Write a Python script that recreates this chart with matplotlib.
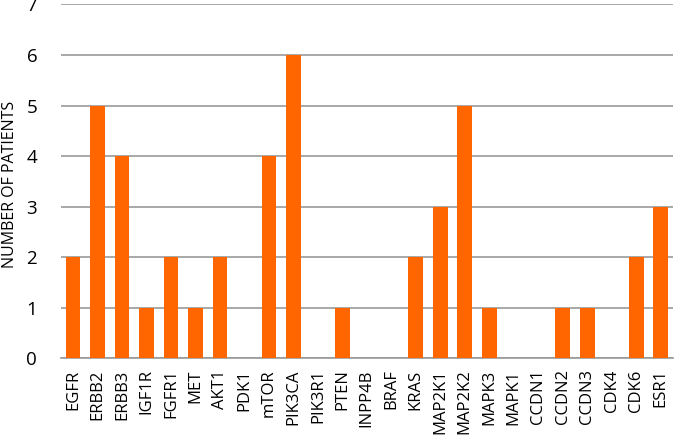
import matplotlib
matplotlib.use("Agg")
import matplotlib.pyplot as plt

# genes and patient counts
genes = ['EGFR', 'ERBB2', 'ERBB3', 'IGF1R', 'FGFR1', 'MET', 'AKT1', 'PDK1',
         'mTOR', 'PIK3CA', 'PIK3R1', 'PTEN', 'INPP4B', 'BRAF', 'KRAS',
         'MAP2K1', 'MAP2K2', 'MAPK3', 'MAPK1', 'CCDN1', 'CCDN2', 'CCDN3',
         'CDK4', 'CDK6', 'ESR1']
patients = [2, 5, 4, 1, 2, 1, 2, 0, 4, 6, 0, 1, 0, 0, 2, 3, 5, 1, 0, 0,
            1, 1, 0, 2, 3]
y_ticks = [0, 1, 2, 3, 4, 5, 6, 7]

plt.rcParams['font.family'] = ['Open Sans', 'DejaVu Sans']

fig = plt.figure(figsize=(6.75, 4.37), dpi=100)
ax = fig.add_axes([0.09, 0.18, 0.907, 0.81])

x = range(len(genes))
ax.bar(x, patients, width=0.6, color='#ff6600', zorder=3)

ax.set_ylim(0, 7)
ax.set_yticks(y_ticks)
ax.set_xlim(-0.5, len(genes) - 0.5)
ax.set_xticks(list(x))
ax.set_xticklabels(genes, rotation=90, fontsize=12)
ax.tick_params(axis='y', labelsize=13.5, length=0, pad=17)
ax.tick_params(axis='x', length=0, pad=8)
ax.set_ylabel('NUMBER OF PATIENTS', fontsize=11.5, va='center')
ax.yaxis.set_label_coords(-0.083, 0.49)

ax.yaxis.grid(True, color='#999999', linewidth=1.2, zorder=0)
for s in ['top', 'right', 'left']:
    ax.spines[s].set_visible(False)
ax.spines['bottom'].set_color('#999999')
ax.spines['bottom'].set_linewidth(1.2)

plt.savefig('out.png', dpi=100)
